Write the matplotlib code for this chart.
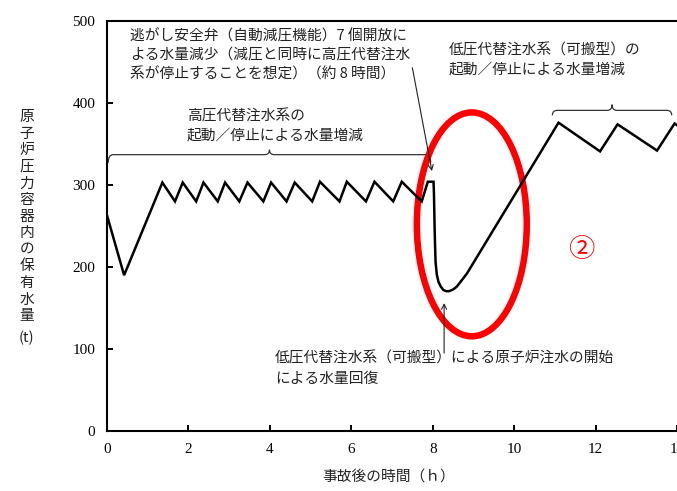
import numpy as np
import matplotlib
matplotlib.use("Agg")
import matplotlib.pyplot as plt
from matplotlib.path import Path
from matplotlib.patches import PathPatch, Ellipse

plt.rcParams['font.family'] = ['Noto Sans CJK JP', 'DejaVu Sans']

# 高圧代替注水系による増減 (0 - 8 h)
hp_time = [0.0, 0.42, 1.36, 1.67, 1.86, 2.19, 2.37, 2.72, 2.90, 3.25, 3.45, 3.84, 4.03,
           4.41, 4.61, 5.04, 5.23, 5.71, 5.89, 6.36, 6.57, 7.03, 7.24, 7.73, 7.88, 8.02]
hp_water = [263, 190, 303, 280, 303, 280, 303, 280, 303, 280, 303, 280, 303,
            280, 303, 280, 304, 280, 304, 280, 304, 280, 304, 280, 304, 304]

# 減圧による水量減少と回復
drop_time = [8.03, 8.05, 8.07, 8.10, 8.14, 8.20, 8.26, 8.33, 8.40, 8.50, 8.59, 8.70, 8.84]
drop_water = [290, 240, 206, 191, 182, 176, 172, 170.5, 170.5, 172.5, 176, 183, 192]

# 低圧代替注水系（可搬型）による増減
lp_time = [11.09, 12.11, 12.54, 13.51, 13.94, 14.0]
lp_water = [376, 341, 374, 342, 375, 373]

time_h = hp_time + drop_time + lp_time
water_t = hp_water + drop_water + lp_water

x_ticks = [0, 2, 4, 6, 8, 10, 12, 14]
y_ticks = [0, 100, 200, 300, 400, 500]

W, H = 677, 491
fig = plt.figure(figsize=(W / 100, H / 100), dpi=100)
ax = fig.add_axes([107 / W, 1 - 431 / H, 570 / W, 410 / H])

ax.plot(time_h, water_t, color='black', lw=1.8, solid_joinstyle='miter')

ax.set_xlim(0, 14)
ax.set_ylim(0, 500)
ax.set_xticks(x_ticks)
ax.set_yticks(y_ticks)
ax.tick_params(direction='in', length=4, width=1.4, pad=8.5, labelsize=11)
for lab in ax.get_xticklabels() + ax.get_yticklabels():
    lab.set_family('Liberation Serif')
ax.spines['right'].set_visible(False)
for s in ['left', 'bottom', 'top']:
    ax.spines[s].set_linewidth(1.5)


def brace(x0, x1, y, end, tip, dx=0.12):
    xm = (x0 + x1) / 2
    verts = [(x0, y - end), (x0, y), (x0 + dx, y), (xm - dx, y), (xm, y), (xm, y + tip),
             (xm, y), (xm + dx, y), (x1 - dx, y), (x1, y), (x1, y - end)]
    codes = [Path.MOVETO, Path.CURVE3, Path.CURVE3, Path.LINETO, Path.CURVE3, Path.CURVE3,
             Path.CURVE3, Path.CURVE3, Path.LINETO, Path.CURVE3, Path.CURVE3]
    ax.add_patch(PathPatch(Path(verts, codes), fill=False, lw=0.9, color='#333333'))


brace(0.03, 7.95, 337, 10, 6)
brace(10.94, 13.87, 391, 6, 7)

txt = dict(fontsize=10.6, color='#222222', ha='left', va='center')
lines1 = ["逃がし安全弁（自動減圧機能）7 個開放に",
          "よる水量減少（減圧と同時に高圧代替注水",
          "系が停止することを想定）（約 8 時間）"]
for i, s in enumerate(lines1):
    ax.text(0.565, 481.7 - i * 23.5, s, **txt)
for i, s in enumerate(["高圧代替注水系の", "起動／停止による水量増減"]):
    ax.text(1.96, 383.3 - i * 22.5, s, **txt)
for i, s in enumerate(["低圧代替注水系（可搬型）の", "起動／停止による水量増減"]):
    ax.text(8.39, 464.6 - i * 23.2, s, **txt)
for i, s in enumerate(["低圧代替注水系（可搬型）による原子炉注水の開始", "による水量回復"]):
    ax.text(4.13, 88.7 - i * 25.6, s, **txt)

arr = dict(arrowstyle='->', lw=0.8, color='#222222', mutation_scale=9, shrinkA=0, shrinkB=0)
ax.annotate("", xy=(7.98, 317), xytext=(7.50, 443), arrowprops=arr)
ax.annotate("", xy=(8.28, 156), xytext=(8.28, 95), arrowprops=arr)

ax.add_patch(Ellipse((8.96, 252), 2.70, 273, fill=False, edgecolor='#ff0000', lw=4.7))
ax.text(11.65, 221, "②", color='#ff0000', fontsize=19, ha='center', va='center')

# 縦書きの軸ラベル
ylab = list("原子炉圧力容器内の保有水量")
for i, ch in enumerate(ylab):
    fig.text(26.7 / W, 1 - (117 + i * 16.6) / H, ch, fontsize=10.6, color='#222222',
             ha='center', va='center')
fig.text(26.7 / W, 1 - 338 / H, "(t)", fontsize=10.6, color='#222222', ha='center', va='center')

fig.text(389 / W, 1 - 478 / H, "事故後の時間（ｈ）", fontsize=10.6, color='#222222',
         ha='center', va='center')

fig.savefig("out.png", dpi=100)
